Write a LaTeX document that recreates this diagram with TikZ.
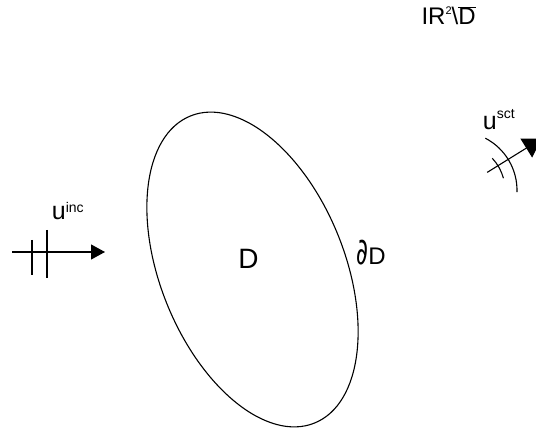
\documentclass[tikz,border=0pt]{standalone}
\usepackage{fontspec}
\setmainfont{Liberation Sans}
\newfontfamily\symfont{DejaVu Sans}
\usetikzlibrary{arrows.meta}
\begin{document}
\begin{tikzpicture}[x=1pt,y=-1pt,line width=1.1pt,
  lbl/.style={inner sep=0pt,font=\fontsize{24}{28}\selectfont},
  big/.style={font=\fontsize{28}{32}\selectfont},
  ufont/.style={font=\fontsize{25}{30}\selectfont},
  tri/.style={-{Triangle[length=14pt,width=15pt]}},
  bigtri/.style={-{Triangle[length=18pt,width=22pt]}}]
\useasboundingbox (0,0) rectangle (536,433);
\clip (0,0) rectangle (536,433);
% obstacle
\coordinate (c) at (252.5,269.5);
\draw[rotate around={22:(c)}] (c) ellipse [x radius=92.2pt, y radius=165.6pt];
\node[lbl,big,anchor=base] (dlab) at (248.5,268) {D};
\node[lbl,anchor=base west] (bd) at (356,265) {\scalebox{1}[1.6]{\symfont\fontsize{23}{26}\selectfont ∂}D};
% exterior label
\node[lbl,anchor=base west] (ext) at (421,25) {IR\raisebox{10pt}{\fontsize{11}{12}\selectfont 2}\textbackslash$\overline{\mbox{D}}$};
% incident wave
\coordinate (is) at (12,252);
\coordinate (ie) at (105,252);
\draw[tri] (is) -- (ie);
\coordinate (b1t) at (32,240);
\coordinate (b1b) at (32,275);
\coordinate (b2t) at (47,230);
\coordinate (b2b) at (47,278);
\draw (b1t) -- (b1b);
\draw (b2t) -- (b2b);
\node[lbl,ufont,anchor=base west] (uinc) at (51.4,220) {u\raisebox{8pt}{\fontsize{14}{16}\selectfont inc}};
% scattered wave
\coordinate (sc) at (458.3,190.3);
\coordinate (ss) at ([shift={(sc)}]31.8:34pt);
\coordinate (se) at ([shift={(sc)}]31.8:98pt);
\draw ([shift={(sc)}]62.6:58.7pt) arc[start angle=62.6,end angle=-1.9,radius=58.7pt];
\draw ([shift={(sc)}]43.3:46.7pt) arc[start angle=43.3,end angle=15,radius=46.7pt];
\draw[bigtri] (ss) -- (se);
\node[lbl,ufont,anchor=base west] (usct) at (482.4,130) {u\raisebox{11pt}{\fontsize{14}{16}\selectfont sct}};
\end{tikzpicture}
\end{document}
